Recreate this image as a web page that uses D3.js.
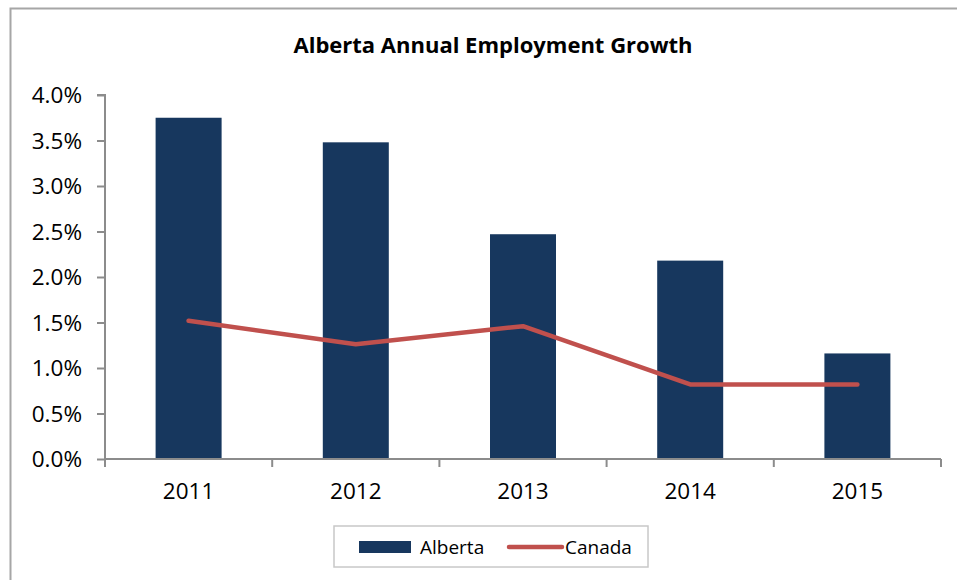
<!DOCTYPE html>
<html>
<head>
<meta charset="utf-8">
<script src="https://cdn.jsdelivr.net/npm/d3@7"></script>
<style>
  body { margin: 0; background: #fff; }
  svg text { font-family: "Open Sans", "Noto Sans", sans-serif; fill: #000; }
</style>
</head>
<body>
<svg></svg>
<script>
//	chart data
var years = ["2011", "2012", "2013", "2014", "2015"];
var alberta = [3.75, 3.48, 2.47, 2.18, 1.16];
var canada = [1.52, 1.26, 1.46, 0.82, 0.82];
var yTicks = [0, 0.5, 1, 1.5, 2, 2.5, 3, 3.5, 4];

var width = 957, height = 580;
var svg = d3.select("svg").attr("width", width).attr("height", height);

//	outer frame
svg.append("rect")
    .attr("x", 10.5).attr("y", 8.5)
    .attr("width", 960).attr("height", 600)
    .attr("fill", "none")
    .attr("stroke", "#a6a6a6")
    .attr("stroke-width", 2);

//	title
svg.append("text")
    .attr("x", 493).attr("y", 53)
    .attr("text-anchor", "middle")
    .style("font-size", "22px")
    .style("font-weight", "bold")
    .text("Alberta Annual Employment Growth");

var plotL = 105, plotR = 941, plotT = 95, plotB = 459;

var xc = d3.scaleBand().domain(years).range([plotL, plotR]);
var y = d3.scaleLinear().domain([0, 4]).range([plotB, plotT]);

//	bars
svg.append("g").selectAll("rect")
    .data(alberta)
    .enter().append("rect")
    .attr("x", function(d, i) { return xc(years[i]) + xc.bandwidth() / 2 - 33; })
    .attr("width", 66)
    .attr("y", function(d) { return y(d); })
    .attr("height", function(d) { return plotB - y(d); })
    .attr("fill", "#17375e");

//	y axis
var yAxis = svg.append("g")
    .attr("transform", "translate(" + plotL + ",0)")
    .call(d3.axisLeft(y).tickValues(yTicks).tickSize(8).tickPadding(15)
        .tickFormat(function(d) { return d.toFixed(1) + "%"; }));
yAxis.selectAll("text").style("font-size", "22.5px").attr("dy", "0.35em");

//	x axis
var xAxis = svg.append("g")
    .attr("transform", "translate(0," + plotB + ")")
    .call(d3.axisBottom(xc).tickSize(0).tickPadding(24));
xAxis.selectAll("text").style("font-size", "22.5px");
xAxis.selectAll(".tick line").remove();
//	category boundary ticks
xAxis.selectAll(".bound").data(d3.range(years.length + 1))
    .enter().append("line")
    .attr("class", "bound")
    .attr("x1", function(i) { return plotL + i * xc.step(); })
    .attr("x2", function(i) { return plotL + i * xc.step(); })
    .attr("y1", 0).attr("y2", 8);

svg.selectAll(".domain, .tick line, .bound")
    .attr("stroke", "#8c8c8c")
    .attr("stroke-width", 2);
yAxis.select(".domain").attr("d", "M-8," + plotT + "H0V" + plotB);
xAxis.select(".domain").attr("d", "M" + plotL + ",0H" + plotR);

//	canada line
var line = d3.line()
    .x(function(d, i) { return xc(years[i]) + xc.bandwidth() / 2; })
    .y(function(d) { return y(d); });
svg.append("path")
    .datum(canada)
    .attr("d", line)
    .attr("fill", "none")
    .attr("stroke", "#c0504d")
    .attr("stroke-width", 4.5)
    .attr("stroke-linecap", "round")
    .attr("stroke-linejoin", "round");

//	legend
var lg = svg.append("g");
lg.append("rect")
    .attr("x", 334).attr("y", 526)
    .attr("width", 314).attr("height", 41)
    .attr("fill", "#fff")
    .attr("stroke", "#c8c8c8")
    .attr("stroke-width", 1.5);
lg.append("rect")
    .attr("x", 359).attr("y", 541)
    .attr("width", 52).attr("height", 12)
    .attr("fill", "#17375e");
lg.append("text")
    .attr("x", 420).attr("y", 554)
    .style("font-size", "19px")
    .text("Alberta");
lg.append("line")
    .attr("x1", 509).attr("x2", 562)
    .attr("y1", 547).attr("y2", 547)
    .attr("stroke", "#c0504d")
    .attr("stroke-width", 4.5)
    .attr("stroke-linecap", "round");
lg.append("text")
    .attr("x", 565).attr("y", 554)
    .style("font-size", "19px")
    .text("Canada");
</script>
</body>
</html>
